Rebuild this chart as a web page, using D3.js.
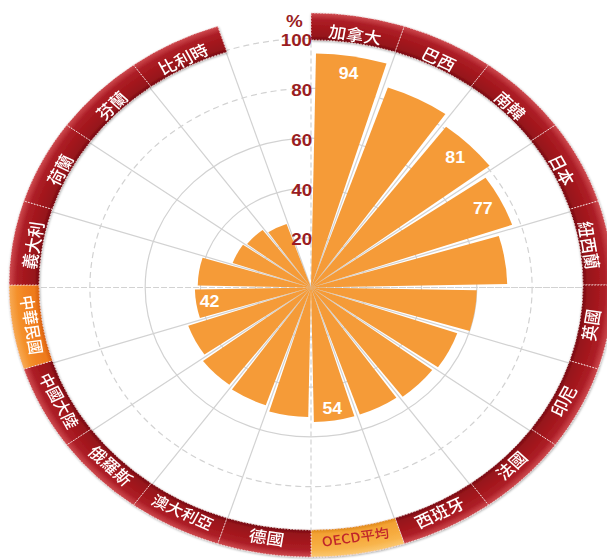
<!DOCTYPE html>
<html>
<head>
<meta charset="utf-8">
<script src="https://cdn.jsdelivr.net/npm/d3@7"></script>
<style>
    body { margin: 0; background: #ffffff; }
    svg { display: block; }
</style>
</head>
<body>
<div id="chart"></div>
<script>
// data (clockwise from 12 o'clock, last slot left empty)
const categories = ["加拿大", "巴西", "南韓", "日本", "紐西蘭", "英國", "印尼", "法國", "西班牙", "OECD平均",
    "德國", "澳大利亞", "俄羅斯", "中國大陸", "中華民國", "義大利", "荷蘭", "芬蘭", "比利時"];
const values = [94, 85, 81, 77, 71, 60, 56, 55, 54, 54, 52, 50, 49, 47, 42, 41, 30, 29, 27];
const labelled = ["加拿大", "南韓", "日本", "OECD平均", "中華民國"];
const highlighted = ["中華民國", "OECD平均"];
const tickValues = [20, 40, 60, 80, 100];
const dashedTicks = [80, 100];
const unitLabel = "%";

const WIDTH = 607, HEIGHT = 560;
const SLOTS = categories.length + 1;
const cx = 311, cy = 287.5;
const SX = 1.11;            // the original picture is stretched sideways
const R100 = 249;
const RING_IN = 245, RING_OUT = 272;
const PAD = 1.1 * Math.PI / 180;

const svg = d3.select("#chart").append("svg")
    .attr("width", WIDTH)
    .attr("height", HEIGHT);

let angle = d3.scaleBand()
    .domain(d3.range(SLOTS))
    .range([0, 2 * Math.PI]);
let r = d3.scaleLinear().domain([0, 100]).range([0, R100]);

// gradients for the ring segments
let defs = svg.append("defs");
function ringGradient(id, stops) {
    let g = defs.append("radialGradient")
        .attr("id", id)
        .attr("gradientUnits", "userSpaceOnUse")
        .attr("cx", 0).attr("cy", 0).attr("r", RING_OUT);
    stops.forEach(function (s) {
        g.append("stop").attr("offset", s[0]).attr("stop-color", s[1]);
    });
}
let f = RING_IN / RING_OUT;
ringGradient("ring-red", [[f, "#760b10"], [f + 0.015, "#96141a"], [f + 0.05, "#a5181e"], [0.975, "#ad1f27"], [1, "#cf4b50"]]);
ringGradient("ring-orange", [[f, "#d8600e"], [f + 0.015, "#ee7a1c"], [f + 0.05, "#f28423"], [0.975, "#f4912c"], [1, "#f7aa55"]]);
ringGradient("ring-yellow", [[f, "#e08a1a"], [f + 0.015, "#f3a234"], [f + 0.05, "#f6ab3e"], [0.975, "#f8b44c"], [1, "#fbc871"]]);

let shadow = defs.append("filter").attr("id", "shadow")
    .attr("x", "-10%").attr("y", "-10%").attr("width", "120%").attr("height", "120%");
shadow.append("feDropShadow")
    .attr("dx", 0.5).attr("dy", 1).attr("stdDeviation", 1)
    .attr("flood-color", "#000").attr("flood-opacity", 0.35);

let g = svg.append("g")
    .attr("transform", "translate(" + cx + "," + cy + ") scale(" + SX + ",1)");

//grid circles
g.selectAll(".grid-circle")
    .data(tickValues)
    .enter().append("circle")
    .attr("class", "grid-circle")
    .attr("r", function (d) { return r(d); })
    .attr("fill", "none")
    .attr("stroke", "#d2d2d2")
    .attr("stroke-width", 1.2)
    .attr("vector-effect", "non-scaling-stroke")
    .attr("stroke-dasharray", function (d) { return dashedTicks.indexOf(d) >= 0 ? "6,4" : null; });

//radial lines on every slot border, dashed on the axes
g.selectAll(".grid-spoke")
    .data(d3.range(SLOTS))
    .enter().append("line")
    .attr("class", "grid-spoke")
    .attr("x1", 0).attr("y1", 0)
    .attr("x2", function (i) { return Math.sin(angle(i)) * R100; })
    .attr("y2", function (i) { return -Math.cos(angle(i)) * R100; })
    .attr("stroke", "#d2d2d2")
    .attr("stroke-width", 1.2)
    .attr("vector-effect", "non-scaling-stroke")
    .attr("stroke-dasharray", function (i) { return i % 5 === 0 ? "5,3" : null; });

// horizontal axis runs right through the ring
g.append("line")
    .attr("x1", -RING_OUT).attr("x2", RING_OUT).attr("y1", 0).attr("y2", 0)
    .attr("stroke", "#d2d2d2")
    .attr("stroke-width", 1.2)
    .attr("vector-effect", "non-scaling-stroke")
    .attr("stroke-dasharray", "5,3");

//bars
let barArc = d3.arc()
    .innerRadius(0)
    .outerRadius(function (d) { return r(d.value); })
    .startAngle(function (d) { return angle(d.i) + PAD; })
    .endAngle(function (d) { return angle(d.i) + angle.bandwidth() - PAD; });

let data = categories.map(function (c, i) { return {name: c, value: values[i], i: i}; });

g.selectAll(".bar")
    .data(data)
    .enter().append("path")
    .attr("class", "bar")
    .attr("d", barArc)
    .attr("fill", "#f59b38");

//value labels
g.selectAll(".value")
    .data(data.filter(function (d) { return labelled.indexOf(d.name) >= 0; }))
    .enter().append("text")
    .attr("class", "value")
    .attr("x", function (d) {
        let a = angle(d.i) + angle.bandwidth() / 2;
        let bottom = Math.cos(a) < 0;
        return Math.sin(a) * (r(d.value) - (bottom ? 12 : 18));
    })
    .attr("y", function (d) {
        let a = angle(d.i) + angle.bandwidth() / 2;
        let bottom = Math.cos(a) < 0;
        return -Math.cos(a) * (r(d.value) - (bottom ? 12 : 18));
    })
    .attr("text-anchor", "middle")
    .attr("dominant-baseline", "central")
    .attr("fill", "#ffffff")
    .style("font", "bold 16px 'Liberation Sans', Arial, sans-serif")
    .text(function (d) { return d.value; });

//the ring with country names
let ring = g.append("g")
    .attr("transform", "translate(0,-2.5)")
    .attr("filter", "url(#shadow)");

let ringArc = d3.arc()
    .innerRadius(RING_IN)
    .outerRadius(RING_OUT)
    .startAngle(function (d) { return angle(d.i); })
    .endAngle(function (d) { return angle(d.i) + angle.bandwidth(); });

ring.selectAll(".segment")
    .data(data)
    .enter().append("path")
    .attr("class", "segment")
    .attr("d", ringArc)
    .attr("fill", function (d) {
        if (d.name === highlighted[0]) return "url(#ring-orange)";
        if (d.name === highlighted[1]) return "url(#ring-yellow)";
        return "url(#ring-red)";
    })
    .attr("stroke", "#f1d3d3")
    .attr("stroke-width", 1)
    .attr("vector-effect", "non-scaling-stroke")
    .attr("stroke-dasharray", "1.5,1.5");

let mid = (RING_IN + RING_OUT) / 2 - 4;
ring.selectAll(".name")
    .data(data)
    .enter().append("text")
    .attr("class", "name")
    .attr("transform", function (d) {
        let a = angle(d.i) + angle.bandwidth() / 2;
        let deg = a * 180 / Math.PI;
        let rot = Math.cos(a) < 0 ? deg - 180 : deg;
        return "translate(" + (Math.sin(a) * mid) + "," + (-Math.cos(a) * mid) + ") rotate(" + rot + ")";
    })
    .attr("text-anchor", "middle")
    .attr("dominant-baseline", "central")
    .attr("fill", function (d) { return d.name === highlighted[1] ? "#c0262c" : "#ffffff"; })
    .style("font-family", "'Noto Sans CJK TC', 'Noto Sans', sans-serif")
    .style("font-weight", 500)
    .style("font-size", function (d) {
        let n = d.name.length;
        return (n <= 3 ? 16 : n === 4 ? 15 : 13) + "px";
    })
    .text(function (d) { return d.name; });

//tick labels on the vertical axis
g.selectAll(".tick-label")
    .data(tickValues)
    .enter().append("text")
    .attr("class", "tick-label")
    .attr("x", 1)
    .attr("y", function (d) { return -r(d) + 2; })
    .attr("text-anchor", "end")
    .attr("dominant-baseline", "central")
    .attr("fill", "#9a1d22")
    .style("font", "bold 17px 'Liberation Sans', Arial, sans-serif")
    .text(function (d) { return d; });

g.append("text")
    .attr("x", -15)
    .attr("y", -r(100) - 17)
    .attr("text-anchor", "middle")
    .attr("dominant-baseline", "central")
    .attr("fill", "#9a1d22")
    .style("font", "bold 17px 'Liberation Sans', Arial, sans-serif")
    .text(unitLabel);
</script>
</body>
</html>
